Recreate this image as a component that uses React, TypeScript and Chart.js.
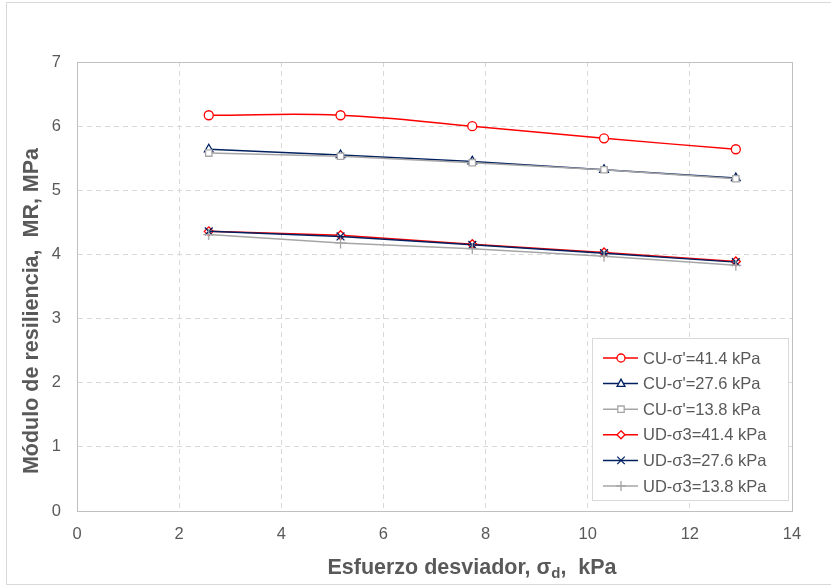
import React, { useEffect, useRef } from "react";
import { Chart, registerables } from "chart.js";

Chart.register(...registerables);

const xValues = [2.58, 5.16, 7.74, 10.32, 12.9];
const cu414 = [6.17, 6.17, 6.0, 5.81, 5.64];
const cu276 = [5.64, 5.55, 5.45, 5.32, 5.19];
const cu138 = [5.58, 5.53, 5.43, 5.32, 5.18];
const ud414 = [4.36, 4.30, 4.16, 4.03, 3.89];
const ud276 = [4.36, 4.28, 4.15, 4.02, 3.88];
const ud138 = [4.31, 4.18, 4.09, 3.97, 3.83];
const seriesLabels = [
  "CU-σ'=41.4 kPa",
  "CU-σ'=27.6 kPa",
  "CU-σ'=13.8 kPa",
  "UD-σ3=41.4 kPa",
  "UD-σ3=27.6 kPa",
  "UD-σ3=13.8 kPa",
];
const xTitleMain = "Esfuerzo desviador, σ";
const xTitleSub = "d";
const xTitleEnd = ",  kPa";
const yTitle = "Módulo de resiliencia,  MR, MPa";

const RED = "#ff0000";
const NAVY = "#002060";
const GRAY = "#a6a6a6";
const TXT = "#595959";
const FONT = "'Liberation Sans', Arial, sans-serif";

const styles = [
  { color: RED, point: "circle", radius: 4.5 },
  { color: NAVY, point: "triangle", radius: 5 },
  { color: GRAY, point: "rect", radius: 4.5 },
  { color: RED, point: "rectRot", radius: 4.5 },
  { color: NAVY, point: "crossRot", radius: 5.5 },
  { color: GRAY, point: "cross", radius: 5.5 },
];

function drawMarker(ctx: CanvasRenderingContext2D, type: string, x: number, y: number, r: number, color: string) {
  ctx.save();
  ctx.strokeStyle = color;
  ctx.fillStyle = "#ffffff";
  ctx.lineWidth = 1.3;
  ctx.beginPath();
  if (type === "circle") {
    ctx.arc(x, y, r, 0, Math.PI * 2);
    ctx.fill();
    ctx.stroke();
  } else if (type === "triangle") {
    ctx.moveTo(x, y - r);
    ctx.lineTo(x - r * 0.87, y + r * 0.5 + 0.5);
    ctx.lineTo(x + r * 0.87, y + r * 0.5 + 0.5);
    ctx.closePath();
    ctx.fill();
    ctx.stroke();
  } else if (type === "rect") {
    ctx.rect(x - r * 0.8, y - r * 0.8, r * 1.6, r * 1.6);
    ctx.fill();
    ctx.stroke();
  } else if (type === "rectRot") {
    ctx.moveTo(x, y - r);
    ctx.lineTo(x + r, y);
    ctx.lineTo(x, y + r);
    ctx.lineTo(x - r, y);
    ctx.closePath();
    ctx.fill();
    ctx.stroke();
  } else if (type === "crossRot") {
    const d = r * 0.75;
    ctx.moveTo(x - d, y - d);
    ctx.lineTo(x + d, y + d);
    ctx.moveTo(x + d, y - d);
    ctx.lineTo(x - d, y + d);
    ctx.stroke();
  } else if (type === "cross") {
    ctx.moveTo(x - r, y);
    ctx.lineTo(x + r, y);
    ctx.moveTo(x, y - r);
    ctx.lineTo(x, y + r);
    ctx.stroke();
  }
  ctx.restore();
}

const decorPlugin = {
  id: "decor",
  afterDraw(chart: any) {
    const ctx: CanvasRenderingContext2D = chart.ctx;
    const a = chart.chartArea;
    ctx.save();
    // outer border
    ctx.strokeStyle = "#d9d9d9";
    ctx.lineWidth = 1;
    ctx.strokeRect(6.5, 2.5, 840, 582);
    // plot border
    ctx.strokeStyle = "#bfbfbf";
    ctx.strokeRect(Math.round(a.left) + 0.5, Math.round(a.top) + 0.5, Math.round(a.right - a.left), Math.round(a.bottom - a.top));

    // legend
    const lx = 592, ly = 338, lw = 196, lh = 162;
    ctx.fillStyle = "#ffffff";
    ctx.fillRect(lx, ly, lw, lh);
    ctx.strokeStyle = "#d9d9d9";
    ctx.strokeRect(lx + 0.5, ly + 0.5, lw, lh);
    ctx.font = `16.5px ${FONT}`;
    ctx.textBaseline = "middle";
    ctx.textAlign = "left";
    for (let i = 0; i < seriesLabels.length; i++) {
      const cy = 358 + i * 25.6;
      const st = styles[i];
      ctx.strokeStyle = st.color;
      ctx.lineWidth = 1.5;
      ctx.beginPath();
      ctx.moveTo(603, cy);
      ctx.lineTo(638, cy);
      ctx.stroke();
      drawMarker(ctx, st.point, 621, cy, st.radius - 0.5, st.color);
      ctx.fillStyle = TXT;
      ctx.fillText(seriesLabels[i], 643, cy + 1);
    }

    // x title
    ctx.fillStyle = TXT;
    ctx.textBaseline = "alphabetic";
    const bold = `bold 21.5px ${FONT}`;
    const subF = `bold 15px ${FONT}`;
    ctx.font = bold;
    const w1 = ctx.measureText(xTitleMain).width;
    const w3 = ctx.measureText(xTitleEnd).width;
    ctx.font = subF;
    const w2 = ctx.measureText(xTitleSub).width;
    const total = w1 + w2 + w3;
    let sx = 472 - total / 2;
    const by = 574;
    ctx.font = bold;
    ctx.fillText(xTitleMain, sx, by);
    sx += w1;
    ctx.font = subF;
    ctx.fillText(xTitleSub, sx, by + 4);
    sx += w2;
    ctx.font = bold;
    ctx.fillText(xTitleEnd, sx, by);

    // y title
    ctx.translate(32, 311);
    ctx.rotate(-Math.PI / 2);
    ctx.font = bold;
    ctx.textAlign = "center";
    ctx.textBaseline = "middle";
    ctx.fillText(yTitle, 0, 0);
    ctx.restore();
  },
};

export default function App() {
  const ref = useRef<HTMLCanvasElement | null>(null);
  useEffect(() => {
    document.body.style.margin = "0";
    const canvas = ref.current!;
    const all = [cu414, cu276, cu138, ud414, ud276, ud138];
    const datasets = all.map((vals, i) => ({
      label: seriesLabels[i],
      data: vals.map((v, j) => ({ x: xValues[j], y: v })),
      borderColor: styles[i].color,
      backgroundColor: i >= 4 ? styles[i].color : "#ffffff",
      pointStyle: styles[i].point,
      pointRadius: styles[i].radius,
      pointBorderWidth: 1.3,
      borderWidth: 1.5,
      tension: i === 0 ? 0.4 : 0,
      cubicInterpolationMode: "default",
      showLine: true,
      fill: false,
    }));
    const chart = new Chart(canvas, {
      type: "scatter",
      data: { datasets: datasets.slice().reverse() as any },
      options: {
        animation: false,
        responsive: false,
        devicePixelRatio: 1,
        layout: { padding: { top: 62, right: 39, left: 0, bottom: 0 } },
        plugins: { legend: { display: false }, tooltip: { enabled: false } },
        scales: {
          x: {
            type: "linear",
            min: 0,
            max: 14,
            afterFit: (s: any) => { s.height = 75; },
            ticks: { stepSize: 2, color: TXT, font: { family: FONT, size: 16.5 }, padding: 14 },
            grid: { color: "#d9d9d9", drawTicks: false },
            border: { display: true, color: "#bfbfbf", dash: [5, 4] },
          },
          y: {
            type: "linear",
            min: 0,
            max: 7,
            afterFit: (s: any) => { s.width = 77; },
            ticks: { stepSize: 1, color: TXT, font: { family: FONT, size: 16.5 }, padding: 16 },
            grid: { color: "#d9d9d9", drawTicks: false },
            border: { display: true, color: "#bfbfbf", dash: [5, 4] },
          },
        },
      } as any,
      plugins: [decorPlugin],
    });
    return () => chart.destroy();
  }, []);
  return <canvas ref={ref} width={831} height={586} style={{ display: "block" }} />;
}
